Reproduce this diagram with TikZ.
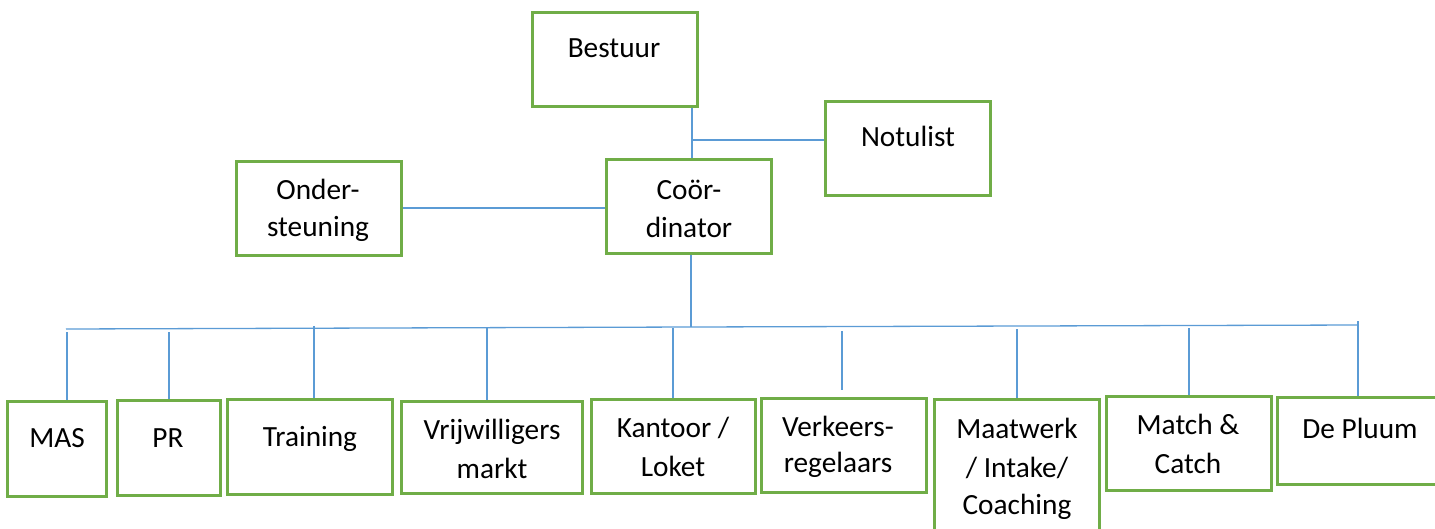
\documentclass[tikz,border=0pt]{standalone}
\usepackage{fontspec}
\setmainfont{Carlito}
\definecolor{boxgreen}{RGB}{112,173,71}
\definecolor{linkblue}{RGB}{91,155,213}
\tikzset{
  box/.style={draw=boxgreen, line width=3pt, rectangle, inner sep=0pt, fill=white},
  txt/.style={anchor=base, inner sep=0pt, font=\fontsize{29.3}{35}\selectfont, text=black},
  link/.style={draw=linkblue, line width=1.3pt}
}
\begin{document}
\begin{tikzpicture}[x=1pt,y=-1pt]
\useasboundingbox (0,0) rectangle (1435,528);
\clip (0,0) rectangle (1435,528);
% boxes
\node[box, minimum width=165pt, minimum height=94pt] (bestuur) at (614.5,59) {};
\node[box, minimum width=165pt, minimum height=94pt] (notulist) at (907.5,148) {};
\node[box, minimum width=165pt, minimum height=94pt] (coord) at (688.5,206) {};
\node[box, minimum width=165pt, minimum height=94pt] (onder) at (318.5,208) {};
\node[box, minimum width=99pt, minimum height=95pt] (mas) at (56.5,448.5) {};
\node[box, minimum width=103pt, minimum height=95pt] (pr) at (168.5,447.5) {};
\node[box, minimum width=165pt, minimum height=95pt] (training) at (309.5,446.5) {};
\node[box, minimum width=181pt, minimum height=92pt] (vrij) at (491.5,447) {};
\node[box, minimum width=164pt, minimum height=94pt] (kantoor) at (673,446) {};
\node[box, minimum width=165pt, minimum height=94pt] (verkeers) at (843.5,445) {};
\node[box, minimum width=165pt, minimum height=161pt] (maatwerk) at (1016.5,479.5) {};
\node[box, minimum width=165pt, minimum height=94pt] (match) at (1188.5,443) {};
\node[box, minimum width=165pt, minimum height=87pt] (pluum) at (1359.5,440.5) {};
% texts
\node[txt] (t-bestuur) at (614,57) {Bestuur};
\node[txt] (t-notulist) at (908,146) {Notulist};
\node[txt] (t-coord1) at (689,199) {Coör-};
\node[txt] (t-coord2) at (689,237) {dinator};
\node[txt] (t-onder1) at (318,199) {Onder-};
\node[txt] (t-onder2) at (318,236) {steuning};
\node[txt] (t-mas) at (57,447) {MAS};
\node[txt] (t-pr) at (168,447) {PR};
\node[txt] (t-training) at (310,446) {Training};
\node[txt] (t-vrij1) at (492,439) {Vrijwilligers};
\node[txt] (t-vrij2) at (492,478) {markt};
\node[txt] (t-kantoor1) at (673,437) {Kantoor /};
\node[txt] (t-kantoor2) at (673,476) {Loket};
\node[txt] (t-verkeers1) at (838,436) {Verkeers-};
\node[txt] (t-verkeers2) at (838,472) {regelaars};
\node[txt] (t-maat1) at (1017,438) {Maatwerk};
\node[txt] (t-maat2) at (1017,477) {/ Intake/};
\node[txt] (t-maat3) at (1017,514) {Coaching};
\node[txt] (t-match1) at (1188,434) {Match \&};
\node[txt] (t-match2) at (1188,473) {Catch};
\node[txt] (t-pluum) at (1360,438) {De Pluum};
% coordinates for connector ends
\coordinate (topspine) at (692,140);
\coordinate (busmid) at (691,327);
\coordinate (busleft) at (66,329);
\coordinate (busright) at (1358,325);
\coordinate (d-mas) at (67,332);
\coordinate (d-pr) at (169,332);
\coordinate (d-training) at (314,326);
\coordinate (d-vrij) at (487,327);
\coordinate (d-kantoor) at (673,328);
\coordinate (d-verkeers) at (842,331);
\coordinate (e-verkeers) at (842,390);
\coordinate (d-maat) at (1017,329);
\coordinate (d-match) at (1189,328);
\coordinate (d-pluum) at (1358,321);
% connectors
\draw[link] (topspine |- bestuur.south) -- (topspine |- coord.north);
\draw[link] (topspine) -- (topspine -| notulist.west);
\draw[link] (onder.east) -- (coord.west |- onder.east);
\draw[link] (busmid |- coord.south) -- (busmid);
\draw[link] (busleft) -- (busmid) -- (busright);
\draw[link] (d-mas) -- (d-mas |- mas.north);
\draw[link] (d-pr) -- (d-pr |- pr.north);
\draw[link] (d-training) -- (d-training |- training.north);
\draw[link] (d-vrij) -- (d-vrij |- vrij.north);
\draw[link] (d-kantoor) -- (d-kantoor |- kantoor.north);
\draw[link] (d-verkeers) -- (e-verkeers);
\draw[link] (d-maat) -- (d-maat |- maatwerk.north);
\draw[link] (d-match) -- (d-match |- match.north);
\draw[link] (d-pluum) -- (d-pluum |- pluum.north);
\end{tikzpicture}
\end{document}
